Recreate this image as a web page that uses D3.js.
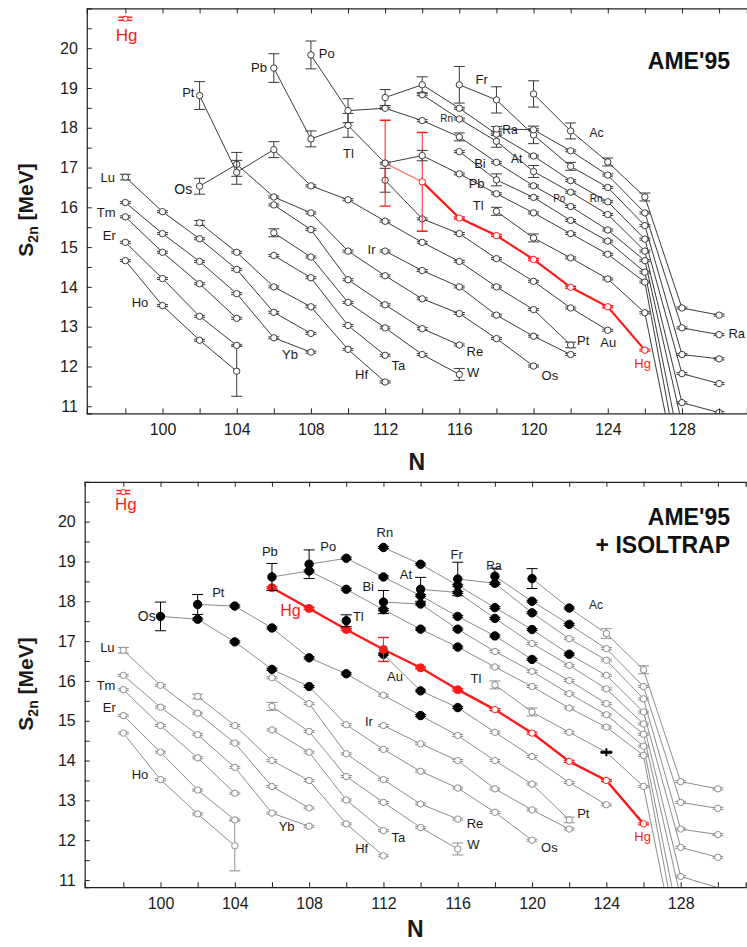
<!DOCTYPE html>
<html><head><meta charset="utf-8">
<script src="https://cdn.jsdelivr.net/npm/d3@7"></script>
<style>body{margin:0;background:#fff} svg{display:block} text{font-family:"Liberation Sans",Arial,Helvetica,sans-serif}</style>
</head><body><svg id="c" width="747" height="947"></svg>
<script>
// ---------- axis ticks ----------
const nTicks = d3.range(98, 131, 2);
const nLabels = [100,104,108,112,116,120,124,128];
const sTicks = d3.range(11, 21, 0.5);
const sLabels = [11,12,13,14,15,16,17,18,19,20];
const elementOrder = ["Ho","Er","Tm","Yb","Lu","Hf","Ta","W","Re","Os","Ir","Pt","Au","Hg","Tl","Pb","Bi","Po","At","Rn","Fr","Ra","Ac"];

// ---------- AME'95 (top) : [N, S2n MeV, err] ----------
const ameHo=[[98,14.66],[100,13.53],[102,12.66],[104,11.88,0.63]];
const ameEr=[[98,15.12],[100,14.21],[102,13.26],[104,12.53]];
const ameTm=[[98,15.76],[100,14.87],[102,14.08],[104,13.21]];
const ameYb=[[98,16.12],[100,15.34],[102,14.64],[104,13.83],[106,12.72],[108,12.36]];
const ameLu=[[98,16.76,0.07],[100,15.89],[102,15.21],[104,14.44],[106,13.36],[108,12.83]];
const ameHf=[[102,15.61,0.06],[104,14.87],[106,14.0],[108,13.5],[110,12.43],[112,11.61]];
const ameTa=[[106,14.79],[108,14.23],[110,13.03],[112,12.28]];
const ameW =[[106,15.36,0.1],[108,14.75],[110,13.61],[112,12.97],[114,12.3],[116,11.8,0.15]];
const ameRe=[[106,16.06],[108,15.44],[110,14.18],[112,13.55],[114,12.95],[116,12.54]];
const ameOs=[[102,16.53,0.2],[104,17.08,0.3],[106,16.26],[108,15.86],[110,14.9],[112,14.28],[114,13.7],[116,13.33],[118,12.7],[120,12.01]];
const ameIr=[[112,14.9],[114,14.41],[116,14.0],[118,13.29],[120,12.76],[122,12.3]];
const amePt=[[102,18.81,0.35],[104,16.88,0.3],[106,17.45,0.2],[108,16.54],[110,16.19],[112,15.65],[114,15.12],[116,14.64],[118,14.0],[120,13.43],[122,12.54,0.07]];
const ameAu=[[112,16.68,0.3],[114,15.71],[116,15.34],[118,14.71],[120,14.14],[122,13.47],[124,12.91]];
const ameHg=[[112,17.11,1.08],[114,16.64,1.24],[116,15.73],[118,15.29],[120,14.69],[122,13.99],[124,13.5],[126,12.41]];
const ameTl=[[118,15.9,0.1],[120,15.23,0.1],[122,14.73],[124,14.2],[126,13.35],[128,8.75]];
const amePb=[[106,19.5,0.36],[108,17.72,0.2],[110,18.06,0.3],[112,17.11],[114,17.3,0.13],[116,16.84],[118,16.34],[120,15.86],[122,15.34],[124,14.82],[126,14.12],[128,9.12]];
const ameBi=[[116,17.4],[118,16.69,0.15],[120,16.25],[122,15.67],[124,15.15],[126,14.37],[128,9.74]];
const amePo=[[108,19.83,0.35],[110,18.43,0.3],[112,18.49],[114,18.18],[116,17.77,0.1],[118,17.13],[120,16.54],[122,16.02],[124,15.43],[126,14.66],[128,10.56]];
const ameAt=[[114,18.83],[116,18.22],[118,17.66,0.15],[120,16.9,0.15],[122,16.38],[124,15.82],[126,14.9],[128,11.09],[130,10.84]];
const ameRn=[[112,18.76,0.2],[114,19.08,0.2],[116,18.49],[118,17.84],[120,17.29],[122,16.67],[124,16.14],[126,15.2],[128,11.82],[130,11.57]];
const ameFr=[[116,19.08,0.46],[118,18.7,0.33],[120,17.82,0.22],[122,17.03,0.1],[124,16.5],[126,15.54],[128,12.3],[130,12.19]];
const ameRa=[[118,17.97,0.06],[120,17.95],[122,17.42],[124,16.81],[126,15.86],[128,12.97],[130,12.8]];
const ameAc=[[120,18.85,0.33],[122,17.92,0.2],[124,17.14,0.1],[126,16.26,0.1],[128,13.47],[130,13.29]];

// ---------- AME'95 + ISOLTRAP (bottom) ----------
const isoHo=[[98,14.69],[100,13.52],[102,12.66],[104,11.86,0.63]];
const isoEr=[[98,15.13],[100,14.21],[102,13.26],[104,12.51]];
const isoTm=[[98,15.78],[100,14.88],[102,14.07],[104,13.18]];
const isoYb=[[98,16.14],[100,15.34],[102,14.65],[104,13.83],[106,12.68],[108,12.35]];
const isoLu=[[98,16.77,0.07],[100,15.89],[102,15.19],[104,14.44],[106,13.35],[108,12.81]];
const isoHf=[[102,15.61,0.06],[104,14.88],[106,14.0],[108,13.5],[110,12.41],[112,11.61]];
const isoTa=[[106,14.77],[108,14.21],[110,13.01],[112,12.24]];
const isoW =[[106,15.36,0.1],[108,14.73],[110,13.6],[112,12.95],[114,12.32],[116,11.78,0.15]];
const isoRe=[[106,16.08],[108,15.43],[110,14.17],[112,13.52],[114,12.91],[116,12.53]];
const isoOs=[[100,17.62,0.36],[102,17.55],[104,16.98],[106,16.29],[108,15.86],[110,14.9],[112,14.28],[114,13.73],[116,13.31],[118,12.7],[120,12.0]];
const isoIr=[[112,14.88],[114,14.42],[116,14.0],[118,13.29],[120,12.76],[122,12.28]];
const isoPt=[[102,17.92,0.25],[104,17.88],[106,17.33],[108,16.58],[110,16.18],[112,15.64],[114,15.13],[116,14.63],[118,14.0],[120,13.41],[122,12.51,0.07]];
const isoAu=[[112,16.67],[114,15.75],[116,15.33],[118,14.71],[120,14.1],[122,13.45],[124,12.89]];
const isoHg=[[106,18.34],[108,17.82],[110,17.29],[112,16.79,0.3],[114,16.33],[116,15.78],[118,15.28],[120,14.69],[122,13.98],[124,13.5],[126,12.41]];
const isoTl=[[110,17.51,0.15],[118,15.9,0.1],[120,15.22,0.1],[122,14.71],[124,14.21],[126,13.35],[128,8.75]];
const isoPb=[[106,18.61,0.34],[108,18.76],[110,18.3],[112,17.79],[114,17.3],[116,16.85],[118,16.35],[120,15.86],[122,15.32],[124,14.84],[126,14.13],[128,9.12]];
const isoBi=[[112,17.98,0.29],[114,17.93],[116,17.3],[118,16.74],[120,16.24],[122,15.68],[124,15.15],[126,14.36],[128,9.74]];
const isoPo=[[108,18.93,0.36],[110,19.08],[112,18.61],[114,18.14],[116,17.62],[118,17.13],[120,16.54],[122,16.01],[124,15.43],[126,14.66],[128,10.56]];
const isoAt=[[114,18.3,0.3],[116,18.22],[118,17.57],[120,16.94],[122,16.39],[124,15.8],[126,14.92],[128,11.09],[130,10.81]];
const isoRn=[[112,19.35],[114,18.93],[116,18.4],[118,17.84],[120,17.29],[122,16.67],[124,16.14],[126,15.22],[128,11.82],[130,11.57]];
const isoFr=[[116,18.56,0.42],[118,18.45],[120,17.71],[122,17.06],[124,16.52],[126,15.55],[128,12.28],[130,12.14]];
const isoRa=[[118,18.63,0.2],[120,18.0],[122,17.42],[124,16.81],[126,15.86],[128,12.95],[130,12.8]];
const isoAc=[[120,18.57,0.25],[122,17.83],[124,17.19,0.12],[126,16.28,0.1],[128,13.47],[130,13.29]];
// nuclides measured by ISOLTRAP (filled symbols)
const isoltrapNuclides=["Os100","Os102","Os104","Os106","Os108","Pt102","Pt104","Pt106","Pt108","Pt110","Pt114",
 "Au112","Au114","Au116","Hg106","Hg108","Hg110","Hg112","Hg114","Hg116","Tl110",
 "Pb106","Pb108","Pb110","Pb112","Pb114","Pb116","Bi112","Bi114","Bi116","Po108","Po110","Po112","Po114","Po116","Po118","Po120",
 "At114","At116","At118","Rn112","Rn114","Rn116","Rn118","Rn120","Rn122","Fr116","Fr118","Fr120","Ra118","Ra120","Ra122","Ac120","Ac122"];
const isoltrapCross=["Tl124"];
const hgRef=[[98,20.74,0.04]];

// ---------- labels: [text, N, S2n, size, red] ----------
const topLabels=[["Hg",98.07,20.33,17,1],["Pt",101.39,18.89,13],["Pb",105.2,19.51,13],["Po",108.85,19.87,13],["Os",101.12,16.47,14],
 ["Lu",97.05,16.76,13],["Tm",96.96,15.86,13],["Er",97.13,15.29,13],["Ho",98.79,13.61,13],["Yb",106.87,12.3,13],["Hf",110.73,11.8,13],
 ["Ta",112.71,12.03,13],["W",116.75,11.84,13],["Re",116.84,12.38,13],["Ir",111.27,14.94,13],["Os",120.88,11.78,13],["Pt",122.68,12.64,13],
 ["Au",124.03,12.6,13],["Hg",125.88,12.08,13,1],["Ra",130.95,12.82,13],["Tl",110.02,17.36,13],["Fr",117.2,19.22,13],["Rn",115.32,18.23,10],
 ["Ra",118.73,17.95,12],["Bi",117.11,17.1,13],["Pb",116.93,16.59,13],["Tl",117.02,16.04,13],["At",119.09,17.21,12],["Ac",123.4,17.87,12],
 ["Po",121.39,16.21,10],["Rn",123.37,16.23,10]];
const botLabels=[["Hg",98.14,20.42,17,1],["Os",99.26,17.62,14],["Pt",103.11,18.22,13],["Pb",105.89,19.24,13],["Po",109.03,19.37,13],
 ["Hg",107.0,17.78,16,1],["Lu",97.14,16.83,13],["Tm",97.07,15.89,13],["Er",97.24,15.32,13],["Ho",98.9,13.64,13],["Yb",106.79,12.35,13],
 ["Hf",110.83,11.79,13],["Ta",112.8,12.06,13],["W",116.84,11.89,13],["Re",116.93,12.41,13],["Ir",111.22,14.99,13],["Os",120.93,11.82,13],
 ["Pt",122.76,12.67,13],["Hg",125.95,12.1,13,1],["Tl",110.65,17.63,13],["Rn",112.08,19.72,13],["Bi",111.18,18.36,13],["At",113.21,18.66,13],
 ["Au",112.62,16.1,13],["Fr",115.94,19.18,13],["Ra",117.95,18.88,12],["Tl",116.98,16.07,13],["Ac",123.44,17.9,12]];

const ameSets={Ho:ameHo,Er:ameEr,Tm:ameTm,Yb:ameYb,Lu:ameLu,Hf:ameHf,Ta:ameTa,W:ameW,Re:ameRe,Os:ameOs,Ir:ameIr,Pt:amePt,Au:ameAu,Hg:ameHg,Tl:ameTl,Pb:amePb,Bi:ameBi,Po:amePo,At:ameAt,Rn:ameRn,Fr:ameFr,Ra:ameRa,Ac:ameAc};
const isoSets={Ho:isoHo,Er:isoEr,Tm:isoTm,Yb:isoYb,Lu:isoLu,Hf:isoHf,Ta:isoTa,W:isoW,Re:isoRe,Os:isoOs,Ir:isoIr,Pt:isoPt,Au:isoAu,Hg:isoHg,Tl:isoTl,Pb:isoPb,Bi:isoBi,Po:isoPo,At:isoAt,Rn:isoRn,Fr:isoFr,Ra:isoRa,Ac:isoAc};

const RED="#ff1a1a";
const svg=d3.select("#c");

function panel(cfg){
  const x=d3.scaleLinear().domain([95.92,131.5]).range(cfg.xr);
  const y=d3.scaleLinear().domain([10.82,21]).range(cfg.yr);
  const g=svg.append("g");
  const cid="clip"+cfg.id;
  svg.append("clipPath").attr("id",cid).append("rect")
    .attr("x",cfg.xr[0]).attr("y",cfg.yr[1]).attr("width",cfg.xr[1]-cfg.xr[0]).attr("height",cfg.yr[0]-cfg.yr[1]);
  const pg=g.append("g").attr("clip-path",`url(#${cid})`);
  const line=d3.line().x(d=>x(d[0])).y(d=>y(d[1]));
  const lineCol=cfg.iso?"#8c8c8c":"#3a3a3a";
  const markCol=cfg.iso?"#8c8c8c":"#3a3a3a";
  elementOrder.forEach(el=>{
    const pts=cfg.sets[el];
    const segs=[];let cur=[];
    pts.forEach((p,i)=>{ if(i>0 && p[0]-pts[i-1][0]>2){segs.push(cur);cur=[];} cur.push(p);});
    segs.push(cur);
    const isHg=el==="Hg";
    segs.forEach(s=>{
      if(s.length<2)return;
      if(isHg && !cfg.iso){
        pg.append("path").attr("d",line(s.slice(0,2))).attr("fill","none").attr("stroke","#ff7a7a").attr("stroke-width",1.2);
        pg.append("path").attr("d",line(s.slice(1))).attr("fill","none").attr("stroke",RED).attr("stroke-width",2.2);
      } else {
        pg.append("path").attr("d",line(s)).attr("fill","none")
          .attr("stroke",isHg?RED:lineCol).attr("stroke-width",isHg?2.4:1);
      }
    });
  });
  elementOrder.forEach(el=>{
    const isHg=el==="Hg";
    cfg.sets[el].forEach(p=>{
      if(p[1]<10.82)return;
      const key=el+p[0];
      const filled=cfg.iso && cfg.isoList.includes(key);
      const cross=cfg.iso && isoltrapCross.includes(key);
      const col=isHg?RED:((filled||cross)?"#000":markCol);
      const e=p[2]||0.025;
      const cx=x(p[0]);
      pg.append("line").attr("x1",cx).attr("x2",cx).attr("y1",y(p[1]-e)).attr("y2",y(p[1]+e)).attr("stroke",col).attr("stroke-width",1);
      [p[1]-e,p[1]+e].forEach(v=>pg.append("line").attr("x1",cx-5.5).attr("x2",cx+5.5).attr("y1",y(v)).attr("y2",y(v)).attr("stroke",col).attr("stroke-width",isHg?1.4:1));
      if(filled){
        pg.append("circle").attr("cx",cx).attr("cy",y(p[1])).attr("r",isHg?4:4.2).attr("fill",col).attr("stroke",col);
      } else if(cross){
        pg.append("line").attr("x1",cx-6).attr("x2",cx+6).attr("y1",y(p[1])).attr("y2",y(p[1])).attr("stroke","#000").attr("stroke-width",2);
        pg.append("line").attr("x1",cx).attr("x2",cx).attr("y1",y(p[1])-4).attr("y2",y(p[1])+4).attr("stroke","#000").attr("stroke-width",2);
      } else {
        pg.append("circle").attr("cx",cx).attr("cy",y(p[1])).attr("r",3.2).attr("fill","#fff").attr("stroke",col).attr("stroke-width",1);
      }
    });
  });
  hgRef.forEach(p=>{
    const cx=x(p[0]);
    [p[1]-p[2],p[1]+p[2]].forEach(v=>g.append("line").attr("x1",cx-7).attr("x2",cx+7).attr("y1",y(v)).attr("y2",y(v)).attr("stroke",RED).attr("stroke-width",1.4));
    g.append("circle").attr("cx",cx).attr("cy",y(p[1])).attr("r",2.6).attr("fill","#fff").attr("stroke",RED);
  });
  cfg.labels.forEach(l=>{
    g.append("text").attr("x",x(l[1])).attr("y",y(l[2])).attr("text-anchor","middle").attr("dominant-baseline","central")
     .attr("font-size",l[3]).attr("fill",l[4]?RED:"#1a1a1a").text(l[0]);
  });
  const ax=g.append("g").attr("transform",`translate(0,${cfg.yr[0]})`)
    .call(d3.axisBottom(x).tickValues(nTicks).tickSize(-5).tickPadding(10).tickFormat(d=>nLabels.includes(d)?d:""));
  const at=g.append("g").attr("transform",`translate(0,${cfg.yr[1]})`)
    .call(d3.axisTop(x).tickValues(nTicks).tickSize(-5).tickFormat(""));
  const al=g.append("g").attr("transform",`translate(${cfg.xr[0]},0)`)
    .call(d3.axisLeft(y).tickValues(sTicks).tickSize(-5).tickPadding(9).tickFormat(d=>sLabels.includes(d)?d:""));
  [ax,at,al].forEach(a=>{a.select(".domain").attr("stroke","#222").attr("stroke-width",1.2);
    a.selectAll(".tick line").attr("stroke","#222");
    a.selectAll("text").attr("font-size",16).attr("fill","#1a1a1a").attr("font-family","Liberation Sans, Arial, sans-serif");});
  g.append("text").attr("x",(cfg.xr[0]+cfg.xr[1])/2).attr("y",cfg.nY).attr("text-anchor","middle").attr("dominant-baseline","central")
    .attr("font-size",23).attr("font-weight","bold").attr("fill","#1a1a1a").text("N");
  const yt=g.append("text").attr("transform",`translate(33,${cfg.sY}) rotate(-90)`).attr("text-anchor","middle")
    .attr("font-size",21).attr("font-weight","bold").attr("fill","#1a1a1a");
  yt.append("tspan").text("S");
  yt.append("tspan").attr("font-size",14).attr("dy",5).text("2n");
  yt.append("tspan").attr("dy",-5).text(" [MeV]");
  cfg.title.forEach((t,i)=>g.append("text").attr("x",730).attr("y",cfg.titleY+i*28).attr("text-anchor","end").attr("dominant-baseline","central")
    .attr("font-size",23).attr("font-weight","bold").attr("fill","#111").text(t));
}

panel({id:"t",xr:[86.8,746.9],yr:[413.4,8.4],sets:ameSets,iso:false,labels:topLabels,nY:462,sY:210,title:["AME'95"],titleY:61});
panel({id:"b",xr:[84.7,745.7],yr:[887.2,481.8],sets:isoSets,iso:true,isoList:isoltrapNuclides,labels:botLabels,nY:929,sY:684,title:["AME'95","+ ISOLTRAP"],titleY:517});
</script></body></html>
